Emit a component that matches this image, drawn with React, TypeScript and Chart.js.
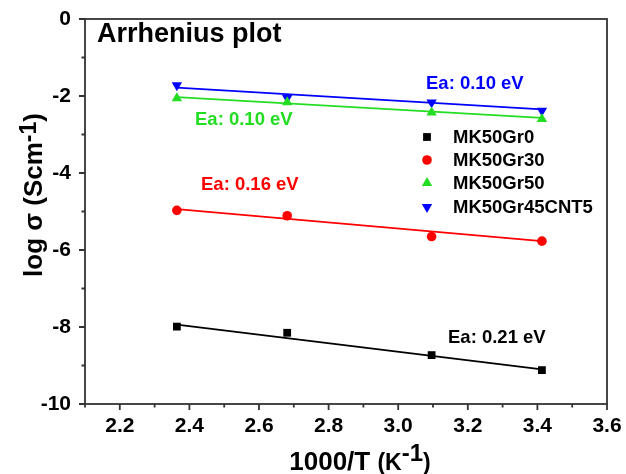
import React, { useEffect, useRef } from "react";
import { Chart, registerables } from "chart.js";

Chart.register(...registerables);

// ---- data ----
const xValues = [2.364, 2.681, 3.096, 3.413];
const mk50Gr0 = [-7.99, -8.15, -8.73, -9.12];
const mk50Gr30 = [-4.97, -5.11, -5.65, -5.77];
const mk50Gr50 = [-2.06, -2.16, -2.43, -2.6];
const mk50Gr45CNT5 = [-1.72, -2.05, -2.17, -2.38];

const fitX = [2.364, 3.413];
const fitGr0 = [-7.94, -9.1];
const fitGr30 = [-4.94, -5.77];
const fitGr50 = [-2.03, -2.57];
const fitGr45CNT5 = [-1.78, -2.35];

const seriesNames = ["MK50Gr0", "MK50Gr30", "MK50Gr50", "MK50Gr45CNT5"];
const eaLabels = ["Ea: 0.21 eV", "Ea: 0.16 eV", "Ea: 0.10 eV", "Ea: 0.10 eV"];
const xTicks = [2.2, 2.4, 2.6, 2.8, 3.0, 3.2, 3.4, 3.6];
const yTicks = [-10, -8, -6, -4, -2, 0];

const BLACK = "#000000";
const RED = "#ff0000";
const GREEN = "#22dd22";
const BLUE = "#0000ff";

const FONT = "'Liberation Sans', Arial, sans-serif";

function pts(xs: number[], ys: number[]) {
  return xs.map((x, i) => ({ x, y: ys[i] }));
}

function drawParts(
  ctx: CanvasRenderingContext2D,
  parts: { t: string; size: number; dy?: number }[],
  cx: number,
  baseY: number
) {
  let total = 0;
  for (const p of parts) {
    ctx.font = `bold ${p.size}px ${FONT}`;
    total += ctx.measureText(p.t).width;
  }
  let x = cx - total / 2;
  ctx.textAlign = "left";
  ctx.textBaseline = "alphabetic";
  for (const p of parts) {
    ctx.font = `bold ${p.size}px ${FONT}`;
    ctx.fillText(p.t, x, baseY + (p.dy || 0));
    x += ctx.measureText(p.t).width;
  }
}

function marker(ctx: CanvasRenderingContext2D, kind: number, x: number, y: number) {
  ctx.beginPath();
  if (kind === 0) {
    ctx.rect(x - 3.9, y - 3.9, 7.8, 7.8);
  } else if (kind === 1) {
    ctx.arc(x, y, 4.8, 0, Math.PI * 2);
  } else if (kind === 2) {
    ctx.moveTo(x - 5.2, y + 3);
    ctx.lineTo(x + 5.2, y + 3);
    ctx.lineTo(x, y - 6);
    ctx.closePath();
  } else {
    ctx.moveTo(x - 5.2, y - 3);
    ctx.lineTo(x + 5.2, y - 3);
    ctx.lineTo(x, y + 6);
    ctx.closePath();
  }
  ctx.fill();
}

const decorPlugin = {
  id: "decor",
  afterDraw(chart: any) {
    const ctx: CanvasRenderingContext2D = chart.ctx;
    const { left, right, top, bottom } = chart.chartArea;
    const xs = chart.scales.x;
    const ys = chart.scales.y;
    ctx.save();
    // frame
    ctx.strokeStyle = "#333";
    ctx.lineWidth = 1.8;
    ctx.strokeRect(left, top, right - left, bottom - top);
    // ticks
    ctx.beginPath();
    for (let k = 21; k <= 36; k++) {
      const px = xs.getPixelForValue(k / 10);
      const major = k % 2 === 0;
      ctx.moveTo(px, bottom);
      ctx.lineTo(px, bottom + (major ? 6 : 3.5));
    }
    for (let v = -10; v <= 0; v += 1) {
      const py = ys.getPixelForValue(v);
      const major = v % 2 === 0;
      ctx.moveTo(left, py);
      ctx.lineTo(left - (major ? 6 : 3.5), py);
    }
    ctx.stroke();

    // title
    ctx.fillStyle = "#000";
    ctx.font = `bold 27px ${FONT}`;
    ctx.textAlign = "left";
    ctx.textBaseline = "alphabetic";
    ctx.fillText("Arrhenius plot", 97, 42);

    // Ea annotations
    ctx.font = `bold 18.5px ${FONT}`;
    ctx.textBaseline = "middle";
    ctx.fillStyle = BLUE;
    ctx.fillText(eaLabels[3], 426, 84);
    ctx.fillStyle = GREEN;
    ctx.fillText(eaLabels[2], 195, 120);
    ctx.fillStyle = RED;
    ctx.fillText(eaLabels[1], 201, 185);
    ctx.fillStyle = BLACK;
    ctx.fillText(eaLabels[0], 448, 338);

    // legend
    const colors = [BLACK, RED, GREEN, BLUE];
    const rowsY = [137, 160, 183, 207];
    for (let i = 0; i < 4; i++) {
      const y = rowsY[i];
      ctx.fillStyle = colors[i];
      marker(ctx, i, 427, y);
      ctx.fillStyle = "#000";
      ctx.font = `bold 18.5px ${FONT}`;
      ctx.textAlign = "left";
      ctx.textBaseline = "middle";
      ctx.fillText(seriesNames[i], 453, y + 1);
    }

    // x axis title
    ctx.fillStyle = "#000";
    drawParts(
      ctx,
      [
        { t: "1000/T ", size: 26 },
        { t: "(K", size: 23 },
        { t: "-1", size: 24, dy: -9 },
        { t: ")", size: 23 },
      ],
      360,
      470
    );

    // y axis title
    ctx.save();
    ctx.translate(42, 195);
    ctx.rotate(-Math.PI / 2);
    drawParts(
      ctx,
      [
        { t: "log σ (Scm", size: 26 },
        { t: "-1", size: 23, dy: -6 },
        { t: ")", size: 26 },
      ],
      0,
      0
    );
    ctx.restore();
    ctx.restore();
  },
};

export default function App() {
  const ref = useRef<HTMLCanvasElement | null>(null);
  useEffect(() => {
    document.body.style.margin = "0";
    const canvas = ref.current!;
    const mkPts = (ys: number[], color: string, style: any, radius: number, rotation = 0) => ({
      type: "scatter" as const,
      data: pts(xValues, ys),
      backgroundColor: color,
      borderColor: color,
      pointStyle: style,
      pointRadius: radius,
      pointBorderWidth: 0,
      pointRotation: rotation,
      showLine: false,
    });
    const mkFit = (ys: number[], color: string) => ({
      type: "line" as const,
      data: pts(fitX, ys),
      borderColor: color,
      borderWidth: 1.8,
      pointRadius: 0,
      showLine: true,
      fill: false,
    });
    const chart = new Chart(canvas, {
      type: "scatter",
      data: {
        datasets: [
          mkFit(fitGr0, BLACK),
          mkFit(fitGr30, RED),
          mkFit(fitGr50, GREEN),
          mkFit(fitGr45CNT5, BLUE),
          mkPts(mk50Gr0, BLACK, "rect", 5.5),
          mkPts(mk50Gr30, RED, "circle", 4.8),
          mkPts(mk50Gr50, GREEN, "triangle", 6),
          mkPts(mk50Gr45CNT5, BLUE, "triangle", 6, 180),
        ] as any,
      },
      options: {
        responsive: false,
        animation: false,
        layout: { padding: { top: 19, right: 19, left: 0, bottom: 0 } },
        plugins: {
          legend: { display: false },
          tooltip: { enabled: false },
        },
        scales: {
          x: {
            type: "linear",
            min: 2.1,
            max: 3.6,
            grid: { display: false, drawTicks: false },
            border: { display: false },
            afterBuildTicks: (s: any) => {
              s.ticks = xTicks.map((v) => ({ value: v }));
            },
            afterFit: (s: any) => {
              s.height = 70;
              s.paddingLeft = 0;
              s.paddingRight = 0;
            },
            ticks: {
              color: "#000",
              font: { family: FONT, size: 21, weight: "bold" },
              padding: 10,
              maxRotation: 0,
              autoSkip: false,
              callback: (v: any) => Number(v).toFixed(1),
            },
          },
          y: {
            type: "linear",
            min: -10,
            max: 0,
            grid: { display: false, drawTicks: false },
            border: { display: false },
            afterBuildTicks: (s: any) => {
              s.ticks = yTicks.map((v) => ({ value: v }));
            },
            afterFit: (s: any) => {
              s.width = 85;
              s.paddingTop = 0;
              s.paddingBottom = 0;
            },
            ticks: {
              color: "#000",
              font: { family: FONT, size: 21, weight: "bold" },
              padding: 14,
              autoSkip: false,
              callback: (v: any) => String(v),
            },
          },
        },
      },
      plugins: [decorPlugin],
    });
    return () => chart.destroy();
  }, []);
  return (
    <div style={{ width: 626, height: 474, background: "#fff" }}>
      <canvas ref={ref} width={626} height={474} style={{ display: "block" }} />
    </div>
  );
}
